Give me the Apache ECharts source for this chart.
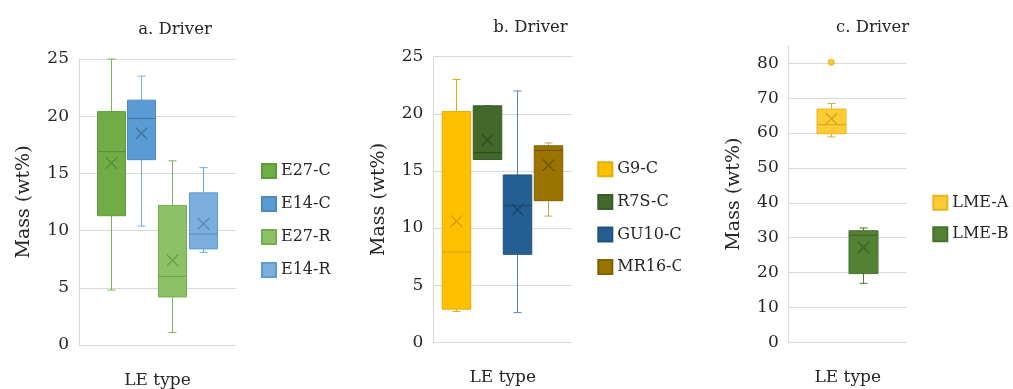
<!DOCTYPE html>
<html>
<head>
<meta charset="utf-8">
<script src="https://cdn.jsdelivr.net/npm/echarts@6/dist/echarts.min.js"></script>
<style>html,body{margin:0;padding:0;background:#fff}#c{width:1013px;height:389px}</style>
</head>
<body>
<div id="c"></div>
<script>
// ---------- DATA ----------
// Panel a
const aNames = ['E27-C', 'E14-C', 'E27-R', 'E14-R'];
const aMin   = [4.8, 10.4, 1.1, 8.1];
const aQ1    = [11.3, 16.2, 4.2, 8.4];
const aMed   = [16.9, 19.8, 6.0, 9.7];
const aQ3    = [20.4, 21.4, 12.2, 13.3];
const aMax   = [25.0, 23.5, 16.1, 15.5];
const aMean  = [15.9, 18.5, 7.4, 10.6];
// Panel b
const bNames = ['G9-C', 'R7S-C', 'GU10-C', 'MR16-C'];
const bMin   = [2.7, 16.0, 2.6, 11.05];
const bQ1    = [2.9, 16.0, 7.7, 12.4];
const bMed   = [7.9, 16.6, 11.95, 16.8];
const bQ3    = [20.2, 20.7, 14.65, 17.2];
const bMax   = [23.0, 20.7, 22.0, 17.45];
const bMean  = [10.6, 17.7, 11.6, 15.5];
// Panel c
const cNames = ['LME-A', 'LME-B'];
const cMin   = [58.9, 16.9];
const cQ1    = [59.8, 19.7];
const cMed   = [62.4, 30.7];
const cQ3    = [66.9, 32.0];
const cMax   = [68.5, 32.8];
const cMean  = [64.1, 27.2];
const cOutlierCat = ['LME-A'];
const cOutlierVal = [80.3];

const titles = ['a. Driver', 'b. Driver', 'c. Driver'];
const yTitle = 'Mass (wt%)';
const xTitle = 'LE type';

// ---------- STYLE ----------
const FONT = 'DejaVu Serif';
const TXT = '#262626';
const GRIDC = '#d9d9d9';
const palette = {
  'E27-C':  {fill:'#70AD47', stroke:'#5F9B3B', whisk:'#7DB356', mark:'#578C35'},
  'E14-C':  {fill:'#5B9BD5', stroke:'#4A89C2', whisk:'#7AAEDD', mark:'#41719C'},
  'E27-R':  {fill:'#8CC168', stroke:'#72AE4A', whisk:'#7DB356', mark:'#67A040'},
  'E14-R':  {fill:'#7CAFDD', stroke:'#5B9BD5', whisk:'#6FA4D8', mark:'#5889B8'},
  'G9-C':   {fill:'#FFC000', stroke:'#E5AC00', whisk:'#E0AA10', mark:'#D29E00'},
  'R7S-C':  {fill:'#43682B', stroke:'#3A5C25', whisk:'#4E7235', mark:'#2F4A1E'},
  'GU10-C': {fill:'#255E91', stroke:'#1F5282', whisk:'#5F84AA', mark:'#1A4570'},
  'MR16-C': {fill:'#9A7300', stroke:'#806000', whisk:'#B9A060', mark:'#6E5300'},
  'LME-A':  {fill:'#FFCD33', stroke:'#E8B420', whisk:'#D8B040', mark:'#D6A31E'},
  'LME-B':  {fill:'#548235', stroke:'#46702B', whisk:'#4F7A33', mark:'#3B5F24'}
};

const panels = [
  {names:aNames, min:aMin, q1:aQ1, med:aMed, q3:aQ3, max:aMax, mean:aMean,
   axis:{left:79, top:59, width:157, height:286}, box:{left:95.1, width:123.3},
   yMax:25, yInt:5, boxW:28, title:{x:175, y:21}, legend:{left:261, top:163, gap:17}},
  {names:bNames, min:bMin, q1:bQ1, med:bMed, q3:bQ3, max:bMax, mean:bMean,
   axis:{left:433.3, top:56.7, width:139, height:285.6}, box:{left:441.05, width:122},
   yMax:25, yInt:5, boxW:28.5, title:{x:530.5, y:19}, legend:{left:597.3, top:161.3, gap:16.6}},
  {names:cNames, min:cMin, q1:cQ1, med:cMed, q3:cQ3, max:cMax, mean:cMean,
   axis:{left:788.7, top:45.9, width:118, height:296.4}, box:{left:815.3, width:63.6},
   yMax:85, yInt:10, boxW:29, title:{x:872.5, y:19}, legend:{left:932.3, top:194.7, gap:15.6}}
];

function makeRender(name, boxW) {
  const col = palette[name];
  return function (params, api) {
    const x = api.value(0);
    const pt = v => api.coord([x, v]);
    const pMin = pt(api.value(1)), pQ1 = pt(api.value(2)), pMed = pt(api.value(3));
    const pQ3 = pt(api.value(4)), pMax = pt(api.value(5)), pMean = pt(api.value(6));
    const cx = Math.round(pMin[0]) + 0.5;
    const hw = boxW / 2, cap = 4, xs = 5.8;
    const ln = (x1, y1, x2, y2, c, w) => ({type:'line', shape:{x1, y1, x2, y2},
      style:{stroke:c, lineWidth:w || 1}});
    return {type:'group', children:[
      ln(cx, pMax[1], cx, pQ3[1], col.whisk),
      ln(cx, pQ1[1], cx, pMin[1], col.whisk),
      ln(cx - cap, pMax[1], cx + cap, pMax[1], col.whisk),
      ln(cx - cap, pMin[1], cx + cap, pMin[1], col.whisk),
      {type:'rect', shape:{x:cx - hw, y:pQ3[1], width:boxW, height:pQ1[1] - pQ3[1]},
        style:{fill:col.fill, stroke:col.stroke, lineWidth:1}},
      ln(cx - hw, pMed[1], cx + hw, pMed[1], col.mark),
      ln(cx - xs, pMean[1] - xs, cx + xs, pMean[1] + xs, col.mark, 1.3),
      ln(cx - xs, pMean[1] + xs, cx + xs, pMean[1] - xs, col.mark, 1.3)
    ]};
  };
}

const grid = [], xAxis = [], yAxis = [], series = [], title = [], legend = [];
panels.forEach((p, k) => {
  const gA = grid.length;
  grid.push({left:p.axis.left, top:p.axis.top, width:p.axis.width, height:p.axis.height,
    containLabel:false, outerBoundsMode:'none'});
  const gB = grid.length;
  grid.push({left:p.box.left, top:p.axis.top, width:p.box.width, height:p.axis.height,
    containLabel:false, outerBoundsMode:'none'});
  xAxis.push({type:'category', gridIndex:gA, data:[''], axisLine:{show:false}, axisTick:{show:false},
    axisLabel:{show:false}, name:xTitle, nameLocation:'middle', nameGap:27,
    nameTextStyle:{fontFamily:FONT, fontSize:17, color:TXT}});
  xAxis.push({type:'category', gridIndex:gB, data:p.names, show:false});
  yAxis.push({type:'value', gridIndex:gA, min:0, max:p.yMax, interval:p.yInt,
    axisLine:{show:true, lineStyle:{color:GRIDC, width:1}}, axisTick:{show:false},
    splitLine:{show:true, showMaxLine:p.yMax % p.yInt === 0, lineStyle:{color:GRIDC, width:1}},
    axisLabel:{margin:10, fontFamily:FONT, fontSize:17, color:TXT, showMaxLabel:p.yMax % p.yInt === 0,
      formatter: v => (v % p.yInt === 0 ? String(v) : '')},
    name:yTitle, nameLocation:'middle', nameGap:45, nameRotate:90,
    nameTextStyle:{fontFamily:FONT, fontSize:19, color:TXT}});
  yAxis.push({type:'value', gridIndex:gB, min:0, max:p.yMax, interval:p.yInt, show:false});
  const xi = xAxis.length - 1, yi = yAxis.length - 1;
  p.names.forEach((n, i) => {
    const col = palette[n];
    series.push({
      type:'custom', name:n, xAxisIndex:xi, yAxisIndex:yi,
      itemStyle:{color:col.fill, borderColor:col.stroke, borderWidth:1},
      encode:{x:0, y:[1, 2, 3, 4, 5, 6]},
      renderItem: makeRender(n, p.boxW),
      data:[[i, p.min[i], p.q1[i], p.med[i], p.q3[i], p.max[i], p.mean[i]]]
    });
  });
  if (k === 2) {
    series.push({type:'scatter', name:'outlier', xAxisIndex:xi, yAxisIndex:yi, symbol:'circle', symbolSize:6,
      itemStyle:{color:'#FFC000', borderColor:'#E0A800', borderWidth:1},
      data: cOutlierCat.map((c, i) => [c, cOutlierVal[i]])});
  }
  title.push({text:titles[k], left:p.title.x, top:p.title.y, textAlign:'center', padding:0,
    textStyle:{fontFamily:FONT, fontSize:16.5, fontWeight:'normal', color:TXT}});
  legend.push({orient:'vertical', left:p.legend.left, top:p.legend.top, itemGap:p.legend.gap,
    itemWidth:14, itemHeight:14, icon:'rect', padding:0, data:p.names,
    selectedMode:false,
    textStyle:{fontFamily:FONT, fontSize:16, color:TXT, lineHeight:14}});
});

const chart = echarts.init(document.getElementById('c'), null, {renderer:'canvas'});
chart.setOption({
  backgroundColor:'#ffffff',
  animation:false,
  title, legend, grid, xAxis, yAxis, series,
  graphic:[{type:'rect', left:681, top:150, z:100, shape:{width:20, height:140}, style:{fill:'#ffffff'}}]
});
</script>
</body>
</html>
